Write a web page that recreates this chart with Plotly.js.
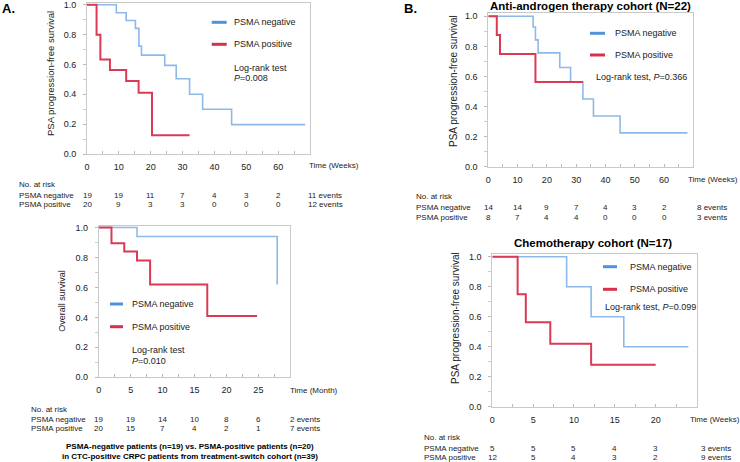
<!DOCTYPE html>
<html><head><meta charset="utf-8">
<script src="https://cdn.plot.ly/plotly-3.0.1.min.js"></script>
<style>html,body{margin:0;padding:0;background:#fff}</style>
</head><body><div id="chart" style="width:740px;height:462px"></div>
<script>
// ---- Panel A (top): PSA progression-free survival, weeks ----
const aPfsNegTime = [0, 9.2, 12.3, 15.2, 16.3, 17.1, 24.4, 28.0, 32.2, 36.3, 45.4, 68.5];
const aPfsNegSurv = [1, 0.947, 0.895, 0.842, 0.723, 0.663, 0.594, 0.504, 0.40, 0.30, 0.197, 0.197];
const aPfsPosTime = [0, 3.0, 4.2, 7.2, 12.3, 16.2, 20.4, 32.2];
const aPfsPosSurv = [1, 0.80, 0.634, 0.5625, 0.489, 0.41, 0.125, 0.125];
const aPfsTicks = [0, 10, 20, 30, 40, 50, 60];
const aPfsRiskNeg = [19, 19, 11, 7, 4, 3, 2];
const aPfsRiskPos = [20, 9, 3, 3, 0, 0, 0];
const aPfsEvents = ["11 events", "12 events"];

// ---- Panel A (bottom): Overall survival, months ----
const aOsNegTime = [0, 6.0, 27.95];
const aOsNegSurv = [1, 0.94, 0.62];
const aOsPosTime = [0, 2.0, 4.0, 6.0, 8.05, 17.0, 24.8];
const aOsPosSurv = [1, 0.895, 0.84, 0.78, 0.62, 0.41, 0.41];
const aOsTicks = [0, 5, 10, 15, 20, 25];
const aOsRiskNeg = [19, 19, 14, 10, 8, 6];
const aOsRiskPos = [20, 15, 7, 4, 2, 1];
const aOsEvents = ["2 events", "7 events"];

// ---- Panel B (top): Anti-androgen therapy cohort ----
const bAaNegTime = [0, 15.3, 16.1, 17.0, 24.4, 28.1, 32.3, 35.9, 45.0, 68.0];
const bAaNegSurv = [1, 0.929, 0.843, 0.757, 0.66, 0.565, 0.45, 0.337, 0.225, 0.225];
const bAaPosTime = [0, 2.9, 4.0, 16.1, 32.3];
const bAaPosSurv = [1, 0.875, 0.75, 0.5625, 0.5625];
const bAaTicks = [0, 10, 20, 30, 40, 50, 60];
const bAaRiskNeg = [14, 14, 9, 7, 4, 3, 2];
const bAaRiskPos = [8, 7, 4, 4, 0, 0, 0];
const bAaEvents = ["8 events", "3 events"];

// ---- Panel B (bottom): Chemotherapy cohort ----
const bChNegTime = [0, 9.1, 12.1, 16.1, 24.0];
const bChNegSurv = [1, 0.8, 0.6, 0.4, 0.4];
const bChPosTime = [0, 3.1, 4.1, 7.1, 12.1, 20.0];
const bChPosSurv = [1, 0.75, 0.5625, 0.42, 0.28, 0.28];
const bChTicks = [0, 5, 10, 15, 20];
const bChRiskNeg = [5, 5, 5, 4, 3];
const bChRiskPos = [12, 5, 4, 3, 2];
const bChEvents = ["3 events", "9 events"];

const seriesNames = ["PSMA negative", "PSMA positive"];

const W = 740, H = 462;
const X = p => p / W;
const Y = p => 1 - p / H;
const BLUE = '#8DB9E8', RED = '#DA3A54';
const BLUE_L = '#4F93DB', RED_L = '#D8304B';
const FONT = 'Liberation Sans, Arial, sans-serif';

function km(x, y, color, w, ax) {
  return {x: x, y: y, type: 'scatter', mode: 'lines', line: {shape: 'hv', color: color, width: w},
    xaxis: 'x' + ax, yaxis: 'y' + ax, hoverinfo: 'skip', showlegend: false};
}
const traces = [
  km(aPfsNegTime, aPfsNegSurv, BLUE, 1.6, ''), km(aPfsPosTime, aPfsPosSurv, RED, 2, ''),
  km(aOsNegTime, aOsNegSurv, BLUE, 1.6, '2'), km(aOsPosTime, aOsPosSurv, RED, 2, '2'),
  km(bAaNegTime, bAaNegSurv, BLUE, 1.6, '3'), km(bAaPosTime, bAaPosSurv, RED, 2, '3'),
  km(bChNegTime, bChNegSurv, BLUE, 1.6, '4'), km(bChPosTime, bChPosSurv, RED, 2, '4'),
];

function xax(d0, d1, range, ticks, minorStep, anchor) {
  const minor = [];
  for (let v = minorStep; v < range[1]; v += minorStep * 2) minor.push(v);
  return {domain: [X(d0), X(d1)], range: range, anchor: anchor, tickmode: 'array', tickvals: ticks,
    ticks: 'inside', ticklen: 3, tickcolor: '#bbb', showline: true, linecolor: '#c9c9c9', linewidth: 1,
    mirror: true, showgrid: false, zeroline: false, ticklabelstandoff: 4, ticklabeloverflow: 'allow',
    tickfont: {family: FONT, size: 9, color: '#222'},
    minor: {tickmode: 'array', tickvals: minor, ticks: 'inside', ticklen: 3, tickcolor: '#bbb'}};
}
function yax(p0, p1, top, anchor) {
  return {domain: [Y(p0), Y(p1)], range: [0, top], anchor: anchor, tickmode: 'linear', tick0: 0, dtick: 0.2,
    tickformat: '.1f', ticks: 'outside', ticklen: 3, tickcolor: '#bbb', showline: true, linecolor: '#c9c9c9',
    linewidth: 1, mirror: true, showgrid: false, zeroline: false, ticklabelstandoff: 5, ticklabeloverflow: 'allow',
    tickfont: {family: FONT, size: 9, color: '#222'},
    minor: {dtick: 0.1, ticks: 'outside', ticklen: 3, tickcolor: '#ccc'}};
}

const ann = [];
const shapes = [];
function txt(px, py, text, o) {
  o = o || {};
  ann.push({xref: 'paper', yref: 'paper', x: X(px), y: Y(py), text: text, showarrow: false,
    xanchor: o.xa || 'left', yanchor: 'middle', textangle: o.angle || 0,
    font: {family: FONT, size: o.size || 9, color: o.color || '#222'}});
}
function dtxt(ax, xv, py, text, size) {
  ann.push({xref: 'x' + ax, yref: 'paper', x: xv, y: Y(py), text: String(text), showarrow: false,
    xanchor: 'center', yanchor: 'middle', font: {family: FONT, size: size || 8, color: '#222'}});
}
function swatch(x0, x1, py, color) {
  shapes.push({type: 'line', xref: 'paper', yref: 'paper', x0: X(x0), x1: X(x1), y0: Y(py), y1: Y(py),
    line: {color: color, width: 3}});
}
function legend(sx0, sx1, tx, y1, y2) {
  swatch(sx0, sx1, y1, BLUE_L); txt(tx, y1, seriesNames[0]);
  swatch(sx0, sx1, y2, RED_L); txt(tx, y2, seriesNames[1]);
}
function riskTable(ax, ticks, neg, pos, events, labX, yHead, yNeg, yPos, evX) {
  txt(labX, yHead, 'No. at risk', {size: 8});
  txt(labX, yNeg, seriesNames[0], {size: 8});
  txt(labX, yPos, seriesNames[1], {size: 8});
  ticks.forEach((t, i) => { dtxt(ax, t, yNeg, neg[i]); dtxt(ax, t, yPos, pos[i]); });
  txt(evX, yNeg, events[0], {size: 8});
  txt(evX, yPos, events[1], {size: 8});
}

// Panel A top
txt(0, 9, '<b>A.</b>', {size: 13, color: '#000'});
legend(211.7, 226.7, 231.7, 22.3, 44.3);
txt(231.7, 68.3, 'Log-rank test');
txt(231.7, 78.3, '<i>P</i>=0.008');
txt(50, 74, 'PSA progression-free survival', {angle: -90, xa: 'center', size: 9.5});
txt(307, 166, 'Time (Weeks)', {size: 8});
riskTable('', aPfsTicks, aPfsRiskNeg, aPfsRiskPos, aPfsEvents, 17, 185, 195, 204.7, 306);

// Panel A bottom
legend(110, 123, 130, 304, 326.7);
txt(130, 350, 'Log-rank test');
txt(130, 361, '<i>P</i>=0.010');
txt(61.7, 301, 'Overall survival', {angle: -90, xa: 'center', size: 9});
txt(288, 390, 'Time (Month)', {size: 8});
riskTable('2', aOsTicks, aOsRiskNeg, aOsRiskPos, aOsEvents, 29, 409, 419, 428.3, 288);
txt(190, 446.7, '<b>PSMA-negative patients (n=19) vs. PSMA-positive patients (n=20)</b>', {xa: 'center', size: 8, color: '#000'});
txt(190, 456.7, '<b>in CTC-positive CRPC patients from treatment-switch cohort (n=39)</b>', {xa: 'center', size: 8, color: '#000'});

// Panel B top
txt(402, 9, '<b>B.</b>', {size: 13, color: '#000'});
txt(590, 6, '<b>Anti-androgen therapy cohort (N=22)</b>', {xa: 'center', size: 11.5, color: '#000'});
legend(590, 605, 613.3, 33.3, 55);
txt(594, 77.3, 'Log-rank test, <i>P</i>=0.366');
txt(453, 81, 'PSA progression-free survival', {angle: -90, xa: 'center', size: 10});
txt(686, 179.3, 'Time (Weeks)', {size: 8});
riskTable('3', bAaTicks, bAaRiskNeg, bAaRiskPos, bAaEvents, 414, 196.7, 207.3, 217.3, 695);

// Panel B bottom
txt(592.7, 243.3, '<b>Chemotherapy cohort (N=17)</b>', {xa: 'center', size: 11.5, color: '#000'});
legend(603, 617, 628.3, 266.7, 289.3);
txt(603.3, 306.7, 'Log-rank test, <i>P</i>=0.099');
txt(455, 318, 'PSA progression-free survival', {angle: -90, xa: 'center', size: 10});
txt(688, 419.3, 'Time (Weeks)', {size: 8});
riskTable('4', bChTicks, bChRiskNeg, bChRiskPos, bChEvents, 421.7, 437.3, 448.3, 457.7, 699.3);

const layout = {
  width: W, height: H, margin: {l: 0, r: 0, t: 0, b: 0}, paper_bgcolor: '#fff', plot_bgcolor: '#fff',
  showlegend: false, font: {family: FONT, size: 9, color: '#222'},
  xaxis: xax(87, 310, [0, 70], aPfsTicks, 5, 'y'),
  yaxis: yax(154, 3.3, 1.01, 'x'),
  xaxis2: xax(98.7, 290.3, [0, 30], aOsTicks, 2.5, 'y2'),
  yaxis2: yax(377.3, 226, 1.01, 'x2'),
  xaxis3: xax(488.3, 693.3, [0, 70], bAaTicks, 5, 'y3'),
  yaxis3: yax(166.7, 12.7, 1.024, 'x3'),
  xaxis4: xax(492.3, 696.5, [0, 25], bChTicks, 2.5, 'y4'),
  yaxis4: yax(406.7, 253.7, 1.02, 'x4'),
  annotations: ann, shapes: shapes
};
Plotly.newPlot('chart', traces, layout, {staticPlot: true, displayModeBar: false});
</script></body></html>
